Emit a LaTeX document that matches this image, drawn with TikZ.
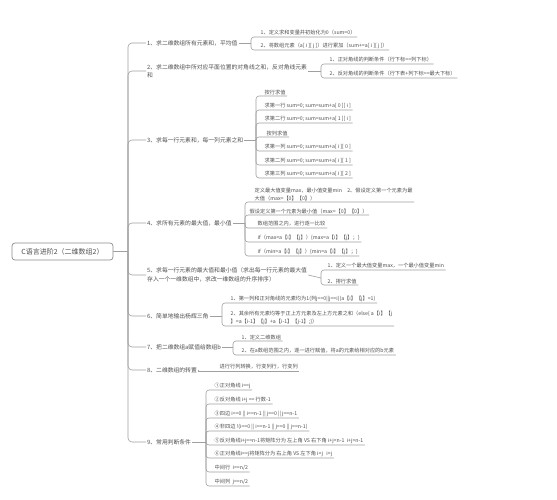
\documentclass[tikz,border=0pt]{standalone}
\usepackage{fontspec}
\setmainfont{Noto Sans CJK SC}
\definecolor{linec}{HTML}{A0A0A0}
\definecolor{rootc}{HTML}{8C8C8C}
\definecolor{txtc}{HTML}{505050}
\begin{document}
\begin{tikzpicture}[x=1pt,y=-1pt,
  conn/.style={draw=linec,line width=0.6pt},
  brk/.style={conn,rounded corners=3pt},
  lvl/.style={font=\fontsize{5.8}{8.4}\selectfont,text=txtc,anchor=west,inner sep=1pt,align=left},
  leaf/.style={font=\fontsize{5.2}{7.6}\selectfont,text=txtc,anchor=south west,inner xsep=1.5pt,inner ysep=1.3pt,align=left},
  rootbox/.style={draw=rootc,fill=white,rounded corners=3pt,line width=0.7pt,minimum width=101pt,minimum height=17pt,font=\fontsize{7}{8}\selectfont,text=txtc}]
\useasboundingbox[fill=white] (0,0) rectangle (557,500);

% root and trunk
\node[rootbox] (root) at (62.5,251.5) {C语言进阶2（二维数组2）};
\coordinate (tr) at (128,251.5);
\draw[conn] (root.east) -- (tr);

% level 1
\node[lvl] (p1) at (146,43) {1、求二维数组所有元素和，平均值};
\node[lvl] (p2) at (146,71) {2、求二维数组中所对应平面位置的对角线之和，反对角线元素\\和};
\node[lvl] (p3) at (146,140) {3、求每一行元素和，每一列元素之和};
\node[lvl] (p4) at (146,223) {4、求所有元素的最大值，最小值};
\node[lvl] (p5) at (146,275) {5、求每一行元素的最大值和最小值（求出每一行元素的最大值\\存入一个一维数组中，求改一维数组的升序排序）};
\node[lvl] (p6) at (146,316) {6、简单地输出杨辉三角};
\node[lvl] (p7) at (146,347) {7、把二维数组a赋值给数组b};
\node[lvl] (p8) at (146,370) {8、二维数组的转置};
\node[lvl] (p9) at (146,442) {9、常用判断条件};
\foreach \p in {p1,p2,p3,p4,p5,p6,p7,p8,p9}
  \draw[conn,rounded corners=4pt] (tr) |- (\p.west);

% branch 1
\coordinate (b1) at (251,43);
\draw[conn] (p1.east) -- (b1);
\node[leaf] (c11) at (259,37) {1、定义求和变量并初始化为0（sum=0）};
\node[leaf] (c12) at (259,50) {2、将数组元素（a[ i ][ j ]）进行累加（sum+=a[ i ][ j ]）};
\foreach \c in {c11,c12} \draw[brk] (b1) |- (\c.south east);

% branch 2
\coordinate (b2) at (321,71);
\draw[conn] (p2.east) -- (b2);
\node[leaf] (c21) at (328,64) {1、正对角线的判断条件（行下标==列下标）};
\node[leaf] (c22) at (328,78) {2、反对角线的判断条件（行下表+列下标==最大下标）};
\foreach \c in {c21,c22} \draw[brk] (b2) |- (\c.south east);

% branch 3
\coordinate (b3) at (256,140);
\draw[conn] (p3.east) -- (b3);
\node[leaf] (c31) at (263,96) {按行求值};
\node[leaf] (c32) at (263,110) {求第一行 sum=0; sum=sum+a[ 0 ][ i ]};
\node[leaf] (c33) at (263,123) {求第二行 sum=0; sum=sum+a[ 1 ][ i ]};
\node[leaf] (c34) at (265,137) {按列求值};
\node[leaf] (c35) at (263,151) {求第一列 sum=0; sum=sum+a[ i ][ 0 ]};
\node[leaf] (c36) at (263,165) {求第二列 sum=0; sum=sum+a[ i ][ 1 ]};
\node[leaf] (c37) at (263,178) {求第三列 sum=0; sum=sum+a[ i ][ 2 ]};
\foreach \c in {c31,c32,c33,c34,c35,c36,c37} \draw[brk] (b3) |- (\c.south east);

% branch 4
\coordinate (b4) at (245,223);
\draw[conn] (p4.east) -- (b4);
\node[leaf] (c41) at (253,202) {定义最大值变量max，最小值变量min\quad 2、假设定义第一个元素为最\\大值（max=【0】【0】）};
\node[leaf] (c42) at (248,215) {假设定义第一个元素为最小值（max=【0】【0】）};
\node[leaf] (c43) at (256,228) {数组范围之内，进行逐一比较};
\node[leaf] (c44) at (256,242) {if（max<a【i】【j】）\{max=a【i】【j】；\}};
\node[leaf] (c45) at (256,256) {if（min>a【i】【j】）\{min=a【i】【j】；\}};
\foreach \c in {c41,c42,c43,c44,c45} \draw[brk] (b4) |- (\c.south east);

% branch 5
\coordinate (b5) at (321,278);
\draw[conn] (p5.east) -- (b5);
\node[leaf] (c51) at (326,270) {1、定义一个最大值变量max，一个最小值变量min};
\node[leaf] (c52) at (326,285) {2、排行求值};
\foreach \c in {c51,c52} \draw[brk] (b5) |- (\c.south east);

% branch 6
\coordinate (b6) at (222,316);
\draw[conn] (p6.east) -- (b6);
\node[leaf] (c61) at (229,303) {1、第一列和正对角线的元素均为1(列j==0||j==i)(a【i】【j】=1)};
\node[leaf] (c62) at (229,326) {2、其余所有元素均等于正上方元素及左上方元素之和（else\{ a【i】【j\\】=a【i-1】【j】+a【i-1】【j-1】;\}）};
\foreach \c in {c61,c62} \draw[brk] (b6) |- (\c.south east);

% branch 7
\coordinate (b7) at (233,347);
\draw[conn] (p7.east) -- (b7);
\node[leaf] (c71) at (240,341) {1、定义二维数组};
\node[leaf] (c72) at (240,355) {2、在a数组范围之内，逐一进行赋值，将a的元素给相对应的b元素};
\foreach \c in {c71,c72} \draw[brk] (b7) |- (\c.south east);

% branch 8
\node[leaf] (c81) at (218,371) {进行行列转换，行变列行，行变列};
\draw[conn] (p8.east) -- (p8.east |- c81.south) -- (c81.south east);

% branch 9
\coordinate (b9) at (206,442);
\draw[conn] (p9.east) -- (b9);
\node[leaf] (c91) at (213,390) {①正对角线 i==j};
\node[leaf] (c92) at (213,404) {②反对角线 i+j == 行数-1};
\node[leaf] (c93) at (213,418) {③四边 i==0 || i==n-1 || j==0 || j==n-1};
\node[leaf] (c94) at (213,431) {④非四边 !(i==0 || i==n-1 || j==0 || j==n-1)};
\node[leaf] (c95) at (213,445) {⑤反对角线i+j==n-1将矩阵分为 左上角 VS 右下角 i+j<n-1\ \ i+j>n-1};
\node[leaf] (c96) at (213,458) {⑥正对角线i==j将矩阵分为 右上角 VS 左下角 i<j\ \ \ i>j};
\node[leaf] (c97) at (213,472) {中间行\ \ i==n/2};
\node[leaf] (c98) at (213,486) {中间列\ \ j==n/2};
\foreach \c in {c91,c92,c93,c94,c95,c96,c97,c98} \draw[brk] (b9) |- (\c.south east);
\end{tikzpicture}
\end{document}
